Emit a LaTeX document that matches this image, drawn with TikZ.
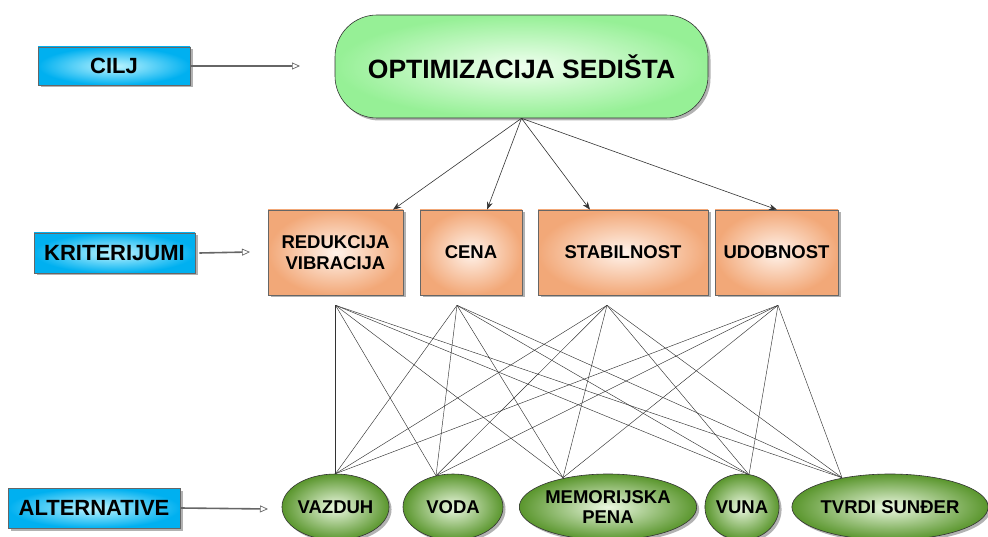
\documentclass[tikz,border=0pt]{standalone}
\usepackage{fontspec}
\setmainfont{Liberation Sans}
\usetikzlibrary{arrows.meta,shadows,shapes.geometric}
\pgfdeclarelayer{bg}
\pgfsetlayers{bg,main}
\definecolor{bluein}{RGB}{190,245,255}
\definecolor{blueout}{RGB}{0,176,240}
\definecolor{greenin}{RGB}{240,255,240}
\definecolor{greenout}{RGB}{150,240,150}
\definecolor{orin}{RGB}{255,243,235}
\definecolor{orout}{RGB}{242,168,120}
\definecolor{elin}{RGB}{235,248,225}
\definecolor{elout}{RGB}{90,150,45}
\begin{document}
\begin{tikzpicture}[x=1pt,y=-1pt,
  shad/.style={drop shadow={shadow xshift=2.5pt,shadow yshift=-2.5pt,opacity=0.3,fill=black}},
  levelbox/.style={rectangle,draw=black!60,line width=0.6pt,inner color=bluein,outer color=blueout,
    inner sep=0pt,font=\bfseries\fontsize{22}{24}\selectfont,shad},
  goalbox/.style={rectangle,rounded corners=42pt,draw=black!80,line width=0.6pt,inner color=greenin,outer color=greenout,
    inner sep=0pt,minimum width=373pt,minimum height=103pt,font=\bfseries\fontsize{26.5}{29}\selectfont,shad},
  critbox/.style={rectangle,draw=black!60,line width=0.6pt,inner color=orin,outer color=orout,
    inner sep=0pt,minimum height=85pt,align=center,font=\bfseries\fontsize{18.5}{20.5}\selectfont,shad},
  altnode/.style={ellipse,draw=black!80,line width=0.6pt,inner color=elin,outer color=elout,
    inner sep=0pt,minimum height=66pt,align=center,font=\bfseries\fontsize{18.5}{20.5}\selectfont,shad},
  levelarrow/.style={draw=black!60,line width=1.6pt,-{Triangle[open,length=8pt,width=7pt,line width=0.7pt]}},
  toparrow/.style={draw=black!80,line width=0.6pt,-{Stealth[length=8pt,width=6pt]}},
  link/.style={draw=black!80,line width=0.45pt}
]
\useasboundingbox (0,0) rectangle (988,537);

% level labels
\node[levelbox,minimum width=152pt,minimum height=38pt] (cilj) at (114,66) {CILJ};
\node[levelbox,minimum width=161pt,minimum height=40pt] (krit) at (114.5,253) {KRITERIJUMI};
\node[levelbox,minimum width=172pt,minimum height=40pt] (alt) at (94,508) {ALTERNATIVE};

% goal
\node[goalbox] (goal) at (521.5,66.5) {OPTIMIZACIJA SEDIŠTA};

% criteria
\node[critbox,minimum width=135pt] (red) at (335.5,252.5) {REDUKCIJA\\VIBRACIJA};
\node[critbox,minimum width=102pt] (cena) at (471,252.5) {CENA};
\node[critbox,minimum width=170pt] (stab) at (623,252.5) {STABILNOST};
\node[critbox,minimum width=123pt] (udob) at (776.5,252.5) {UDOBNOST};

% alternatives
\node[altnode,minimum width=101pt] (vaz) at (335.5,507) {VAZDUH};
\node[altnode,minimum width=100pt] (voda) at (453,507) {VODA};
\node[altnode,minimum width=170pt] (mem) at (608,507) {MEMORIJSKA\\PENA};
\node[altnode,minimum width=68pt] (vuna) at (742,507) {VUNA};
\node[altnode,minimum width=192pt] (tvrdi) at (890,507) {TVRDI SUNĐER};

% free ends of level arrows
\coordinate (ciljEnd) at (300,66);
\coordinate (kritEnd) at (250,252);
\coordinate (altEnd) at (268,509);

\draw[levelarrow] (cilj.east) -- (ciljEnd);
\draw[levelarrow] ([xshift=4pt]krit.east) -- (kritEnd);
\draw[levelarrow] (alt.east) -- (altEnd);

% arrow targets on criteria tops
\coordinate (tRed) at ([xshift=57.5pt]red.north);
\coordinate (tCena) at ([xshift=16pt]cena.north);
\coordinate (tStab) at ([xshift=-33pt]stab.north);
\coordinate (tUdob) at ([xshift=0.5pt]udob.north);

\draw[toparrow] (goal.south) -- (tRed);
\draw[toparrow] (goal.south) -- (tCena);
\draw[toparrow] (goal.south) -- (tStab);
\draw[toparrow] (goal.south) -- (tUdob);

% convergence points below criteria
\coordinate (bRed) at ([yshift=-10pt]red.south);
\coordinate (bCena) at ([xshift=-14pt,yshift=-10pt]cena.south);
\coordinate (bStab) at ([xshift=-16pt,yshift=-10pt]stab.south);
\coordinate (bUdob) at ([xshift=1.5pt,yshift=-10pt]udob.south);

% convergence points on alternatives
\coordinate (aVaz) at (vaz.north);
\coordinate (aVoda) at ([xshift=-17pt,yshift=-2pt]voda.north);
\coordinate (aMem) at ([xshift=-45pt,yshift=-4pt]mem.north);
\coordinate (aVuna) at ([xshift=7pt,yshift=-1pt]vuna.north);
\coordinate (aTvrdi) at ([xshift=-48pt,yshift=-4pt]tvrdi.north);

\begin{pgfonlayer}{bg}
\foreach \c in {bRed,bCena,bStab,bUdob}{
  \foreach \a in {aVaz,aVoda,aMem,aVuna,aTvrdi}{
    \draw[link] (\c) -- (\a);
  }
}
\end{pgfonlayer}
\end{tikzpicture}
\end{document}
